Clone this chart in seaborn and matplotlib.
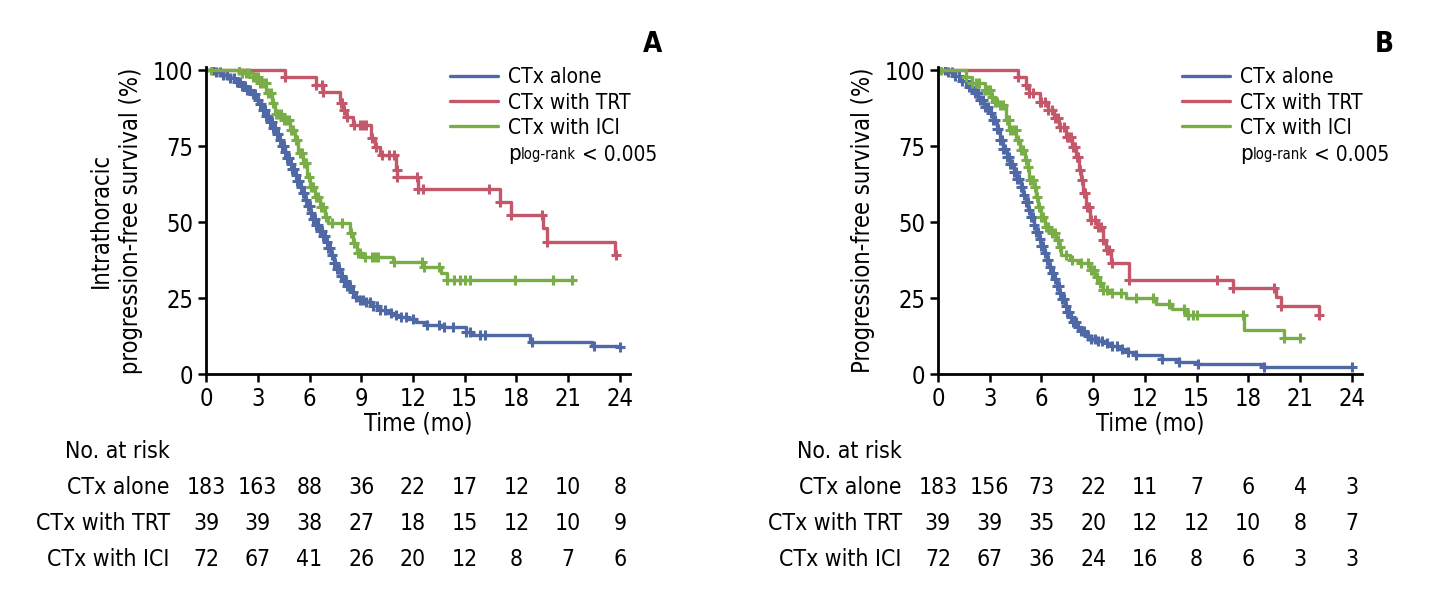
import numpy as np
import matplotlib
matplotlib.use("Agg")
import matplotlib.pyplot as plt
import matplotlib.transforms as mtransforms
from matplotlib.lines import Line2D
import seaborn as sns

# ---- data ----
groups = ["CTx alone", "CTx with TRT", "CTx with ICI"]
colors = ["#4f68a6", "#c4586a", "#79ad47"]
risk_times = [0, 3, 6, 9, 12, 15, 18, 21, 24]

# Panel A: intrathoracic PFS
a_alone_t = [0, 0.5, 0.9, 1.3, 1.7, 2.0, 2.3, 2.6, 2.9, 3.1, 3.3, 3.5, 3.7, 3.9, 4.1, 4.25, 4.4, 4.55,
             4.7, 4.85, 5.0, 5.15, 5.3, 5.45, 5.6, 5.75, 5.9, 6.05, 6.2, 6.4, 6.6, 6.8, 6.95, 7.1, 7.25,
             7.4, 7.6, 7.8, 8.0, 8.2, 8.4, 8.6, 8.9, 9.3, 9.7, 10.1, 10.5, 10.9, 11.25, 11.7, 12.2,
             12.8, 13.8, 15.1, 15.4, 18.8, 22.4, 24.0]
a_alone_s = [100, 99.5, 98.5, 97.5, 96.2, 94.8, 93.5, 92, 90.2, 88.8, 87, 85, 83, 81, 79, 77, 75, 73,
             71, 69.2, 67.5, 65.5, 63.5, 61.5, 59.5, 57.3, 55.2, 53, 51, 49, 47.2, 45.5, 43.5, 41.5,
             39.2, 36.5, 34.5, 32.2, 30.5, 28.8, 27, 25.5, 24.3, 23.6, 22.5, 21.2, 20, 19.4, 18.9, 18,
             17.2, 16.1, 15.6, 13.9, 12.8, 10.6, 9.2, 8.8]
a_alone_cens = [0.4, 0.6, 0.8, 1.0, 1.2, 1.4, 1.6, 1.8, 1.95, 2.1, 2.25, 2.4, 2.55, 2.7, 2.85, 3.0,
                3.1, 3.2, 3.3, 3.4, 3.5, 3.6, 3.7, 3.8, 3.9, 4.0, 4.1, 4.2, 4.3, 4.4, 4.5, 4.6, 4.7,
                4.8, 4.9, 5.0, 5.1, 5.2, 5.3, 5.4, 5.5, 5.6, 5.7, 5.8, 5.9, 6.0, 6.1, 6.2, 6.3, 6.4,
                6.5, 6.6, 6.7, 6.8, 6.9, 7.0, 7.1, 7.2, 7.3, 7.4, 7.5, 7.6, 7.7, 7.8, 7.9, 8.0, 8.1,
                8.2, 8.35, 8.5, 8.7, 8.9, 9.1, 9.3, 9.5, 9.7, 9.9, 10.1, 10.4, 10.7, 11.0, 11.3, 11.6,
                12.0, 12.8, 13.5, 13.8, 14.3, 15.1, 15.3, 15.9, 16.2, 18.9, 22.5, 24.0]

a_trt_t = [0, 4.6, 6.4, 6.8, 7.75, 7.95, 8.1, 8.5, 9.55, 9.8, 10.1, 11.0, 11.1, 12.3, 17.05, 17.7, 19.55,
           19.75, 23.7, 23.8]
a_trt_s = [100, 97.8, 95, 92.9, 89, 86.8, 84.6, 81.9, 77.5, 74.8, 72, 67.1, 64.9, 61, 56.7, 52.3, 47.9,
           43.5, 39.1, 39.1]
a_trt_cens = [4.6, 6.4, 6.7, 6.8, 7.8, 7.9, 8.0, 8.2, 8.6, 8.9, 9.1, 9.3, 9.6, 9.85, 10.2, 10.6, 10.9,
              11.05, 11.1, 12.25, 12.3, 12.6, 16.4, 17.05, 17.7, 19.5, 19.75, 23.75]

a_ici_t = [0, 1.95, 2.7, 3.1, 3.5, 3.8, 4.0, 4.5, 4.85, 5.15, 5.35, 5.65, 5.85, 6.05, 6.3, 6.6, 6.9, 7.1,
           8.35, 8.55, 8.75, 9.1, 9.5, 10.85, 12.6, 13.65, 13.95, 21.3]
a_ici_s = [100, 98.9, 97.8, 95.6, 92.3, 89, 85.7, 83.6, 80.3, 77, 72.6, 69.3, 64.9, 61.6, 58.3, 55, 51.7,
           49.6, 46.3, 43, 39.7, 38.6, 38.6, 37.0, 35.3, 33.1, 30.9, 30.9]
a_ici_cens = [0.3, 1.9, 2.1, 2.3, 2.5, 2.7, 2.9, 3.0, 3.15, 3.3, 3.45, 3.6, 3.75, 3.9, 4.05, 4.2, 4.35,
              4.5, 4.65, 4.8, 4.95, 5.05, 5.2, 5.3, 5.45, 5.55, 5.7, 5.8, 5.95, 6.1, 6.2, 6.35, 6.5,
              6.65, 6.8, 6.95, 7.3, 7.9, 8.4, 8.6, 8.8, 8.95, 9.2, 9.6, 9.8, 10.0, 10.9, 12.5, 12.65,
              13.5, 14.0, 14.4, 14.7, 15.0, 15.3, 17.9, 20.1, 21.25]

a_risk = [[183, 163, 88, 36, 22, 17, 12, 10, 8],
          [39, 39, 38, 27, 18, 15, 12, 10, 9],
          [72, 67, 41, 26, 20, 12, 8, 7, 6]]

# Panel B: PFS
b_alone_t = [0, 0.5, 0.9, 1.3, 1.7, 2.05, 2.35, 2.65, 2.95, 3.2, 3.4, 3.6, 3.8, 4.0, 4.2, 4.4, 4.6, 4.8,
             4.95, 5.1, 5.25, 5.4, 5.55, 5.7, 5.85, 6.0, 6.15, 6.3, 6.45, 6.6, 6.75, 6.9, 7.05, 7.2,
             7.35, 7.5, 7.65, 7.85, 8.05, 8.3, 8.6, 8.9, 9.3, 9.75, 10.1, 10.5, 11.0, 11.5, 13.0, 14.0,
             15.1, 18.9, 24.0]
b_alone_s = [100, 99.3, 98.2, 96.5, 94.5, 92.3, 90.2, 88, 85.8, 83.6, 80.5, 77, 74, 71.5, 69, 66.5, 64,
             61.5, 59, 56.5, 54, 51.5, 49, 46.8, 44.5, 42, 39.8, 37.5, 35.3, 33.2, 31.2, 29, 26.8, 24.6,
             22.5, 20.5, 18.9, 17, 15.5, 14, 12.5, 11.6, 10.8, 10.1, 9.2, 8.3, 7.2, 6.2, 5.1, 4.0, 3.3,
             2.2, 2.2]
b_alone_cens = [0.4, 0.6, 0.8, 1.0, 1.2, 1.4, 1.6, 1.8, 2.0, 2.15, 2.3, 2.45, 2.6, 2.75, 2.9, 3.05,
                3.2, 3.3, 3.4, 3.5, 3.6, 3.7, 3.8, 3.9, 4.0, 4.1, 4.2, 4.3, 4.4, 4.5, 4.6, 4.7, 4.8,
                4.9, 5.0, 5.1, 5.2, 5.3, 5.4, 5.5, 5.6, 5.7, 5.8, 5.9, 6.0, 6.1, 6.2, 6.3, 6.4, 6.5,
                6.6, 6.7, 6.8, 6.9, 7.0, 7.1, 7.2, 7.3, 7.4, 7.5, 7.6, 7.7, 7.85, 8.0, 8.15, 8.3, 8.5,
                8.7, 8.9, 9.1, 9.3, 9.5, 9.8, 10.1, 10.4, 10.7, 11.0, 11.5, 13.0, 14.0, 15.1, 18.9, 24.0]

b_trt_t = [0, 4.65, 5.1, 5.3, 5.9, 6.4, 6.75, 7.05, 7.45, 7.75, 8.0, 8.2, 8.3, 8.4, 8.6, 8.8, 9.25, 9.55,
           9.75, 10.05, 11.1, 17.1, 19.6, 19.9, 22.1]
b_trt_s = [100, 97.8, 95, 92.3, 89.6, 86.8, 84.1, 81.4, 78.1, 74.8, 71.5, 67.1, 63.8, 59.4, 55, 50.7,
           48.5, 44.1, 40.8, 36.4, 30.9, 28.2, 25.4, 22.4, 19.4]
b_trt_cens = [4.65, 5.1, 5.3, 5.5, 5.9, 6.0, 6.2, 6.4, 6.6, 6.8, 6.95, 7.1, 7.3, 7.5, 7.6, 7.7, 7.85,
              7.95, 8.05, 8.15, 8.25, 8.35, 8.45, 8.55, 8.65, 8.75, 8.9, 9.1, 9.3, 9.45, 9.6, 9.8,
              9.95, 10.1, 11.1, 16.2, 17.1, 19.5, 19.9, 22.1]

b_ici_t = [0, 1.65, 1.95, 2.75, 3.1, 3.3, 3.6, 3.95, 4.15, 4.55, 4.75, 5.05, 5.2, 5.3, 5.6, 5.7, 5.8,
           6.0, 6.2, 6.5, 6.85, 7.05, 7.15, 7.65, 8.2, 8.8, 9.1, 9.35, 9.55, 10.05, 10.9, 12.65, 13.6,
           14.4, 17.75, 20.05, 21.0]
b_ici_s = [100, 97.8, 95.6, 93.4, 91.2, 89.6, 88.5, 83.6, 80.3, 77, 73.7, 70.4, 68.2, 63.8, 61.6, 58.3,
           55, 51.7, 48.5, 46.3, 44.1, 41.9, 39.1, 37.5, 36.4, 34.2, 32, 29.8, 27.6, 26.5, 24.9, 23.2,
           21.5, 19.4, 14.5, 11.7, 11.7]
b_ici_cens = [0.2, 1.65, 1.95, 2.2, 2.4, 2.75, 2.9, 3.0, 3.15, 3.3, 3.45, 3.6, 3.8, 4.0, 4.1, 4.2, 4.35,
              4.5, 4.65, 4.8, 4.95, 5.1, 5.25, 5.35, 5.5, 5.65, 5.75, 5.85, 6.0, 6.1, 6.25, 6.4, 6.6,
              6.8, 6.95, 7.1, 7.4, 7.8, 8.3, 8.7, 8.9, 9.05, 9.2, 9.4, 9.6, 9.8, 10.1, 10.6, 11.5,
              12.5, 13.4, 14.3, 14.5, 14.8, 15.0, 17.7, 20.1, 21.0]

b_risk = [[183, 156, 73, 22, 11, 7, 6, 4, 3],
          [39, 39, 35, 20, 12, 12, 10, 8, 7],
          [72, 67, 36, 24, 16, 8, 6, 3, 3]]

# ---- style ----
sns.set_style("ticks")
plt.rcParams["font.family"] = ["DejaVu Sans"]
plt.rcParams["font.stretch"] = "condensed"
plt.rcParams["axes.linewidth"] = 2
for key in ["text.color", "axes.labelcolor", "xtick.color", "ytick.color", "axes.edgecolor"]:
    plt.rcParams[key] = "black"

fig = plt.figure(figsize=(14.3, 6.06), dpi=100)
ax_a = fig.add_axes([0.1441, 0.3828, 0.2966, 0.5066])
ax_b = fig.add_axes([0.6559, 0.3828, 0.2966, 0.5066])


def step_value(t, s, x):
    i = np.searchsorted(t, x, side="right") - 1
    return np.asarray(s)[i]


def draw_panel(ax, curves, risk, ylabel, letter):
    for (t, s, cens), color, name in zip(curves, colors, groups):
        sns.lineplot(x=t, y=s, ax=ax, color=color, lw=2.4, drawstyle="steps-post",
                     errorbar=None, sort=False, label=None)
        cy = [step_value(t, s, c) for c in cens]
        ax.plot(cens, cy, ls="none", marker="+", ms=7, mew=2.2, color=color)

    ax.set_xlim(0, 24.6)
    ax.set_ylim(0, 101)
    ax.set_xticks(risk_times)
    ax.set_yticks([0, 25, 50, 75, 100])
    ax.tick_params(direction="out", length=6, width=1.8, labelsize=17, pad=3)
    sns.despine(ax=ax)
    ax.set_xlabel("Time (mo)", fontsize=17, labelpad=1)
    ax.set_ylabel(ylabel, fontsize=17, labelpad=7, linespacing=1.35)

    handles = [Line2D([], [], color=c, lw=2.4) for c in colors]
    ax.legend(handles, groups, loc="upper left", bbox_to_anchor=(0.555, 1.026),
              frameon=False, fontsize=15, handlelength=2.3, handletextpad=0.5,
              labelspacing=0.25, borderaxespad=0)

    p1 = ax.text(0.712, 0.684, "p", transform=ax.transAxes, fontsize=16, va="bottom")
    p2 = ax.annotate("log-rank", xy=(1, 0.08), xycoords=p1, fontsize=10.5, va="bottom")
    ax.annotate(" < 0.005", xy=(1, 0), xycoords=p2, fontsize=15, va="bottom",
                xytext=(0, -1.5), textcoords="offset points")

    ax.text(1.075, 1.075, letter, transform=ax.transAxes, fontsize=20,
            fontweight="bold", ha="right", va="center")

    # number at risk table
    tr = mtransforms.blended_transform_factory(ax.transData, fig.transFigure)
    ax.text(-2.1, (606 - 452) / 606, "No. at risk", transform=tr, ha="right",
            va="center", fontsize=16.5, clip_on=False)
    row_y = [488, 524, 560]
    for name, counts, yy in zip(groups, risk, row_y):
        ax.text(-2.1, (606 - yy) / 606, name, transform=tr, ha="right",
                va="center", fontsize=16.5, clip_on=False)
        for x, n in zip(risk_times, counts):
            ax.text(x, (606 - yy) / 606, str(n), transform=tr, ha="center",
                    va="center", fontsize=16.5, clip_on=False)


draw_panel(ax_a, [(a_alone_t, a_alone_s, a_alone_cens), (a_trt_t, a_trt_s, a_trt_cens),
                  (a_ici_t, a_ici_s, a_ici_cens)], a_risk,
           "Intrathoracic\nprogression-free survival (%)", "A")
draw_panel(ax_b, [(b_alone_t, b_alone_s, b_alone_cens), (b_trt_t, b_trt_s, b_trt_cens),
                  (b_ici_t, b_ici_s, b_ici_cens)], b_risk,
           "Progression-free survival (%)", "B")

fig.savefig("out.png", dpi=100)
